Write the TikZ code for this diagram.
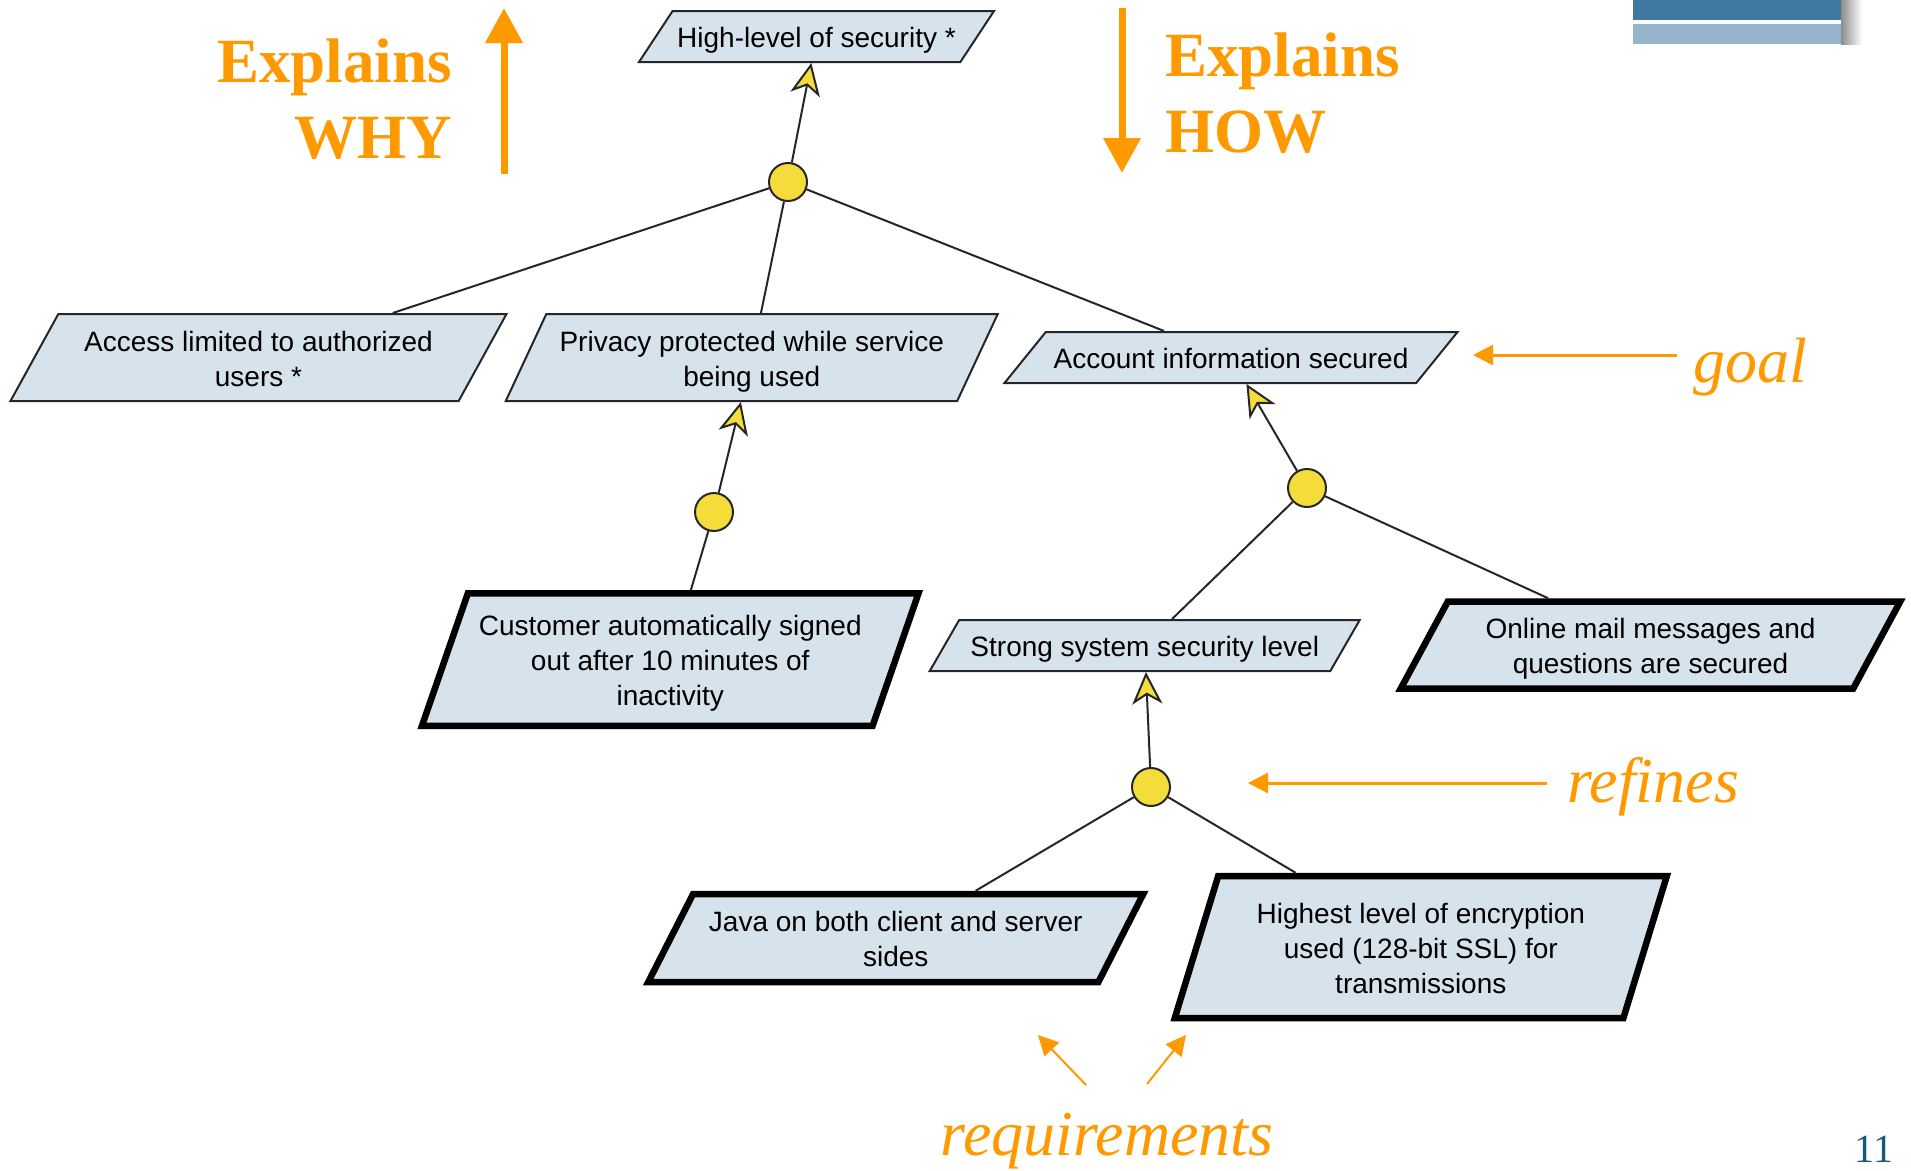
\documentclass[tikz,border=0pt]{standalone}
\usepackage{fontspec}
\setmainfont{Liberation Sans}
\newfontfamily\timesfont{Liberation Serif}
\usetikzlibrary{shapes.geometric,arrows.meta}
\definecolor{boxblue}{RGB}{214,227,237}
\definecolor{andyel}{RGB}{244,221,58}
\definecolor{orng}{RGB}{255,153,0}
\definecolor{slidebl}{RGB}{64,121,160}
\definecolor{slidelt}{RGB}{150,180,206}
\definecolor{pgnum}{RGB}{22,88,118}
\begin{document}
\begin{tikzpicture}[x=1pt,y=-1pt,
  gbox/.style={trapezium, trapezium stretches body, draw=black!85, line width=2pt,
    fill=boxblue, align=center, inner sep=0pt, text=black,
    font=\fontsize{28}{35}\selectfont},
  rbox/.style={gbox, draw=black, line width=6.5pt},
  pgram/.style n args={4}{trapezium left angle=#1, trapezium right angle={180-#1},
    minimum width=#2pt, text height=#3pt, text depth=#4pt},
  andpt/.style={circle, draw=black!85, line width=2pt, fill=andyel,
    minimum size=38pt, inner sep=0pt},
  refine/.style={draw=black!85, line width=2pt},
  arr/.style={refine, -{Stealth[length=32pt,width=30pt,inset=9pt,fill=andyel]}},
  note/.style={text=orng, font=\timesfont\itshape\fontsize{64}{70}\selectfont, inner sep=0pt},
  big/.style={text=orng, font=\timesfont\bfseries\fontsize{63}{76}\selectfont, inner sep=0pt},
  noteline/.style={draw=orng, line width=3pt, -{Triangle[length=20pt,width=20pt]}}]
  \useasboundingbox (0,0) rectangle (1911,1170);

  \fill[slidebl] (1633,0) rectangle (1841,20);
  \fill[slidelt] (1633,24) rectangle (1841,44);
  \shade[left color=black!45, right color=white] (1841,0) rectangle (1862,44);

  \node[gbox, pgram={56.6}{355}{36.5}{14.5}] (hl) at (816.5,36.5) {High-level of security *};
  \node[gbox, pgram={61.2}{496}{72}{15}] (acc) at (258.5,357.5) {Access limited to authorized\\users *};
  \node[gbox, pgram={65}{492}{72}{15}] (prv) at (751.75,357.5) {Privacy protected while service\\being used};
  \node[gbox, pgram={51}{453}{36.5}{14.5}] (aci) at (1231,357.5) {Account information secured};
  \node[rbox, pgram={70.9}{496.5}{112.25}{20.25}] (cus) at (670.25,659.5) {Customer automatically signed\\out after 10 minutes of\\inactivity};
  \node[gbox, pgram={60}{430}{36.5}{14.5}] (ssl) at (1144.75,645.5) {Strong system security level};
  \node[rbox, pgram={61.6}{499.5}{72}{15}] (oml) at (1650.5,645) {Online mail messages and\\questions are secured};
  \node[rbox, pgram={63}{495}{72.5}{15.5}] (jav) at (895.75,938) {Java on both client and server\\sides};
  \node[rbox, pgram={73}{492}{117}{25}] (enc) at (1420.8,947) {Highest level of encryption\\used (128-bit SSL) for\\transmissions};

  \node[andpt] (a1) at (788,182) {};
  \node[andpt] (a2) at (714,512) {};
  \node[andpt] (a3) at (1307,488) {};
  \node[andpt] (a4) at (1151,787) {};

  \draw[arr] (a1) -- (hl);
  \draw[refine] (a1) -- (acc);
  \draw[refine] (a1) -- (prv);
  \draw[refine] (a1) -- (aci);
  \draw[arr] (a2) -- (prv);
  \draw[refine] (a2) -- (cus);
  \draw[arr] (a3) -- (aci);
  \draw[refine] (a3) -- (ssl);
  \draw[refine] (a3) -- (oml);
  \draw[arr] (a4) -- (ssl);
  \draw[refine] (a4) -- (jav);
  \draw[refine] (a4) -- (enc);

  \node[big, align=right, anchor=north east] (why) at (452,39) {Explains\\WHY};
  \node[big, align=left, anchor=north west] (how) at (1165,33) {Explains\\HOW};
  \coordinate (whyt) at (504,174);
  \coordinate (whyh) at (504,8);
  \coordinate (howt) at (1122,8);
  \coordinate (howh) at (1122,173);
  \draw[orng, line width=7pt, -{Triangle[length=35pt,width=36pt]}] (whyt) -- (whyh);
  \draw[orng, line width=7pt, -{Triangle[length=35pt,width=36pt]}] (howt) -- (howh);

  \node[note, anchor=base west] (goal) at (1693,382) {goal};
  \node[note, anchor=base west] (refn) at (1567,802) {refines};
  \node[note, anchor=base] (req) at (1107,1155) {requirements};
  \coordinate (gt) at (1677,355);
  \coordinate (gh) at (1473,355);
  \coordinate (rt) at (1547,783);
  \coordinate (rh) at (1248,783);
  \coordinate (q1t) at (1086,1085);
  \coordinate (q1h) at (1038,1035);
  \coordinate (q2t) at (1147,1084);
  \coordinate (q2h) at (1186,1035);
  \draw[noteline] (gt) -- (gh);
  \draw[noteline] (rt) -- (rh);
  \draw[noteline, line width=2pt] (q1t) -- (q1h);
  \draw[noteline, line width=2pt] (q2t) -- (q2h);

  \node[text=pgnum, font=\timesfont\fontsize{40}{40}\selectfont, anchor=base, inner sep=0pt] (pg) at (1874,1162) {11};
\end{tikzpicture}
\end{document}
